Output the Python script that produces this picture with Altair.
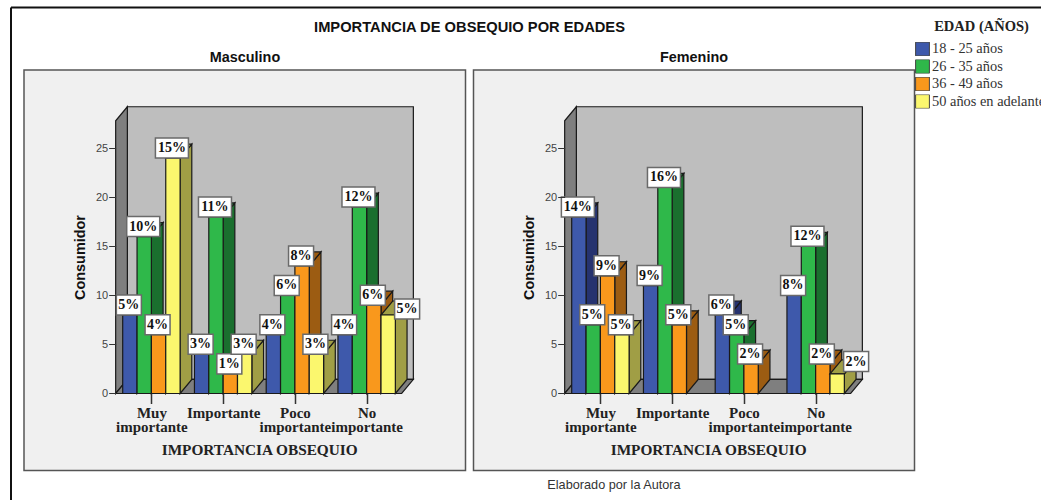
import altair as alt
import pandas as pd

# Respondent counts per importance level and age bracket
categorias = [["Muy", "importante"], ["Importante"], ["Poco", "importante"], ["No", "importante"]]
edades = ["18 - 25 años", "26 - 35 años", "36 - 49 años", "50 años en adelante"]

masc_18 = [8, 4, 6, 6]
masc_26 = [16, 18, 10, 19]
masc_36 = [6, 2, 13, 9]
masc_50 = [24, 4, 4, 8]

fem_18 = [18, 11, 8, 10]
fem_26 = [7, 21, 6, 15]
fem_36 = [12, 7, 3, 3]
fem_50 = [6, 0, 0, 2]

# Percentages printed on the bars
masc_pct = [[5, 3, 4, 4], [10, 11, 6, 12], [4, 1, 8, 6], [15, 3, 3, 5]]
fem_pct = [[14, 9, 6, 8], [5, 16, 5, 12], [9, 5, 2, 2], [5, 0, 0, 2]]

colores = ["#3E59AB", "#2FB84A", "#F9981C", "#FBF76E"]
sombras = ["#26336F", "#1A6F2E", "#9C5C12", "#A09E45"]

W, H = 1041, 500
UNIT_X = 14.35      # pixels per bar width
UNIT_Y = 9.81       # pixels per respondent
ZERO_Y = 393.5      # pixel row of the value 0
DX = 0.815          # depth of the 3D box, horizontally (bar widths)
DY = 1.43           # depth of the 3D box, vertically (respondents)
WALL = 27.8         # height of the front wall edge
FLOOR_L, FLOOR_R = -0.49, 19.44

y_domain = [(ZERO_Y - H) / UNIT_Y, ZERO_Y / UNIT_Y]


def add_face(rows, key, fill, pts):
    for x, y, y2 in pts:
        rows.append({"face": key, "fill": fill, "x": x, "y": y, "y2": y2})


def faces(series):
    rows = []
    add_face(rows, "back", "pared", [(FLOOR_L + DX, DY, WALL + DY), (FLOOR_R + DX, DY, WALL + DY)])
    add_face(rows, "left", "lateral", [(FLOOR_L, 0, WALL), (FLOOR_L + DX, DY, WALL + DY)])
    add_face(rows, "floor", "lateral", [(FLOOR_L, 0, 0), (FLOOR_L + DX, 0, DY), (FLOOR_R, 0, DY), (FLOOR_R + DX, DY, DY)])
    for c in range(4):
        for i, vals in enumerate(series):
            v = vals[c]
            if v == 0:
                continue
            u = 5 * c + i
            shade = edades[i] + " sombra"
            add_face(rows, f"side{c}{i}", shade, [(u + 1, v, 0), (u + 1 + DX, v + DY, DY)])
            add_face(rows, f"top{c}{i}", shade, [(u, v, v), (u + DX, v, v + DY), (u + 1, v, v + DY), (u + 1 + DX, v + DY, v + DY)])
            add_face(rows, f"front{c}{i}", edades[i], [(u, v, 0), (u + 1, v, 0)])
    return pd.DataFrame(rows)


def label_table(series, pct, nudges):
    rows = []
    for c in range(4):
        for i, vals in enumerate(series):
            if vals[c] == 0:
                continue
            txt = f"{pct[i][c]}%"
            half = (16.5 if len(txt) == 3 else 12.5) / UNIT_X
            dx, dy = nudges.get((c, i), (0, 0))
            cx = 5 * c + i + 0.43 + dx
            cy = vals[c] + 1.02 + dy
            rows.append({"t": txt, "cx": cx, "cy": cy, "x0": cx - half, "x1": cx + half,
                         "y0": cy - 1.02, "y1": cy + 1.02})
    return pd.DataFrame(rows)


fill_domain = edades + [e + " sombra" for e in edades] + ["pared", "lateral"]
fill_range = colores + sombras + ["#BEBEBE", "#7F7F7F"]

label_expr = " : ".join(
    f"datum.value == {5 * k + 2} ? {c!r}" for k, c in enumerate(categorias)
) + " : ''"


def panel(series, pct, nudges, px0):
    xs = alt.Scale(domain=[-px0 / UNIT_X, (W - px0) / UNIT_X], nice=False, zero=False)
    ys = alt.Scale(domain=y_domain, nice=False, zero=False)
    floor_px = px0 + FLOOR_L * UNIT_X

    x_axis = alt.Axis(
        values=[2, 7, 12, 17], labelExpr=label_expr, orient="bottom", offset=ZERO_Y - H,
        domain=False, grid=False, ticks=True, tickSize=10, tickColor="#333", tickWidth=1.5,
        labelFont="Liberation Serif", labelFontWeight="bold", labelFontSize=15, labelColor="#222",
        labelLineHeight=14, labelPadding=2, labelOverlap=False, labelFlush=False, labelBound=False,
        labelAngle=0, labelBaseline="top",
        title="IMPORTANCIA OBSEQUIO", titleFont="Liberation Serif", titleFontWeight="bold",
        titleFontSize=15.3, titleColor="#222", titleX=px0 + 136.5, titleY=55.5, titleBaseline="middle",
        titleAlign="center", zindex=1,
    )
    y_axis = alt.Axis(
        values=[0, 5, 10, 15, 20, 25], orient="left", offset=-floor_px,
        domain=False, grid=False, tickSize=7, tickColor="#333", tickWidth=1,
        labelFont="Liberation Sans", labelFontSize=11, labelColor="#444", labelPadding=1,
        title="Consumidor", titleFont="Liberation Sans", titleFontWeight="bold", titleFontSize=14.4,
        titleColor="#111", titleX=-35.5, titleY=257, titleBaseline="middle", titleAlign="center",
        zindex=1,
    )

    boxes3d = alt.Chart(faces(series)).mark_area(
        orient="vertical", stroke="#1a1a1a", strokeWidth=1.2, opacity=1
    ).encode(
        x=alt.X("x:Q", scale=xs, axis=x_axis),
        y=alt.Y("y:Q", scale=ys, axis=y_axis, stack=None),
        y2=alt.Y2("y2:Q"),
        fill=alt.Fill(
            "fill:N",
            scale=alt.Scale(domain=fill_domain, range=fill_range),
            legend=alt.Legend(
                values=edades, title=None, orient="none", legendX=915, legendY=42,
                symbolType="square", symbolSize=190, symbolStrokeColor="#444", symbolStrokeWidth=1,
                symbolOpacity=1, labelFont="Liberation Serif", labelFontSize=14.4, labelColor="#333",
                labelOffset=2, rowPadding=2.5, clipHeight=14, labelLimit=200, columnPadding=0, padding=0,
            ),
        ),
        detail="face:N",
    )

    base = alt.Chart(label_table(series, pct, nudges))
    boxes = base.mark_rect(fill="white", stroke="#6a6a6a", strokeWidth=1.5).encode(
        x=alt.X("x0:Q", scale=xs, axis=x_axis), x2="x1:Q",
        y=alt.Y("y0:Q", scale=ys, axis=y_axis), y2="y1:Q",
    )
    texts = base.mark_text(font="Liberation Serif", fontWeight="bold", fontSize=14, color="#111").encode(
        x=alt.X("cx:Q", scale=xs, axis=x_axis),
        y=alt.Y("cy:Q", scale=ys, axis=y_axis),
        text="t:N",
    )
    return alt.layer(boxes3d, boxes, texts)


def caption(text, x, y, **style):
    return alt.Chart(pd.DataFrame({"t": [text]})).mark_text(**style).encode(
        text="t:N", x=alt.value(x), y=alt.value(y)
    )


def frame_box(x0, x1, y0, y1):
    return alt.Chart(pd.DataFrame({"k": [0]})).mark_rect(fill="#F0F0F0", stroke="#555", strokeWidth=1.5).encode(
        x=alt.value(x0), x2=alt.value(x1), y=alt.value(y0), y2=alt.value(y1)
    )


def line(x0, x1, y0, y1):
    return alt.Chart(pd.DataFrame({"k": [0]})).mark_rule(color="#111", strokeWidth=2).encode(
        x=alt.value(x0), x2=alt.value(x1), y=alt.value(y0), y2=alt.value(y1)
    )


sans_bold = dict(font="Liberation Sans", fontWeight="bold", color="#111", align="center", baseline="middle")

decor = alt.layer(
    line(11, W, 7.5, 7.5),
    line(11, 11, 7.5, H),
    frame_box(24, 465.5, 70, 470.5),
    frame_box(473.5, 914.5, 70, 470.5),
    caption("IMPORTANCIA DE OBSEQUIO POR EDADES", 469.5, 28, fontSize=14.7, **sans_bold),
    caption("Masculino", 245, 57.5, fontSize=14.4, **sans_bold),
    caption("Femenino", 694, 57.5, fontSize=14.4, **sans_bold),
    caption("Elaborado por la Autora", 614, 485, font="Liberation Sans", fontSize=12.7, color="#333",
            align="center", baseline="middle"),
    caption("EDAD (AÑOS)", 981.5, 27, font="Liberation Serif", fontWeight="bold", fontSize=14.5,
            color="#222", align="center", baseline="middle"),
)

p1 = panel([masc_18, masc_26, masc_36, masc_50], masc_pct, {(3, 3): (1.39, -0.4)}, 122.7)
p2 = panel([fem_18, fem_26, fem_36, fem_50], fem_pct, {(3, 3): (1.39, 0.24)}, 571.7)

chart = alt.layer(decor, p1, p2).resolve_scale(x="independent", y="independent").properties(
    width=W, height=H, padding=0, autosize="none", background="white"
).configure_view(stroke=None)

chart.save("out.html", embed_options={"renderer": "svg", "actions": False})
